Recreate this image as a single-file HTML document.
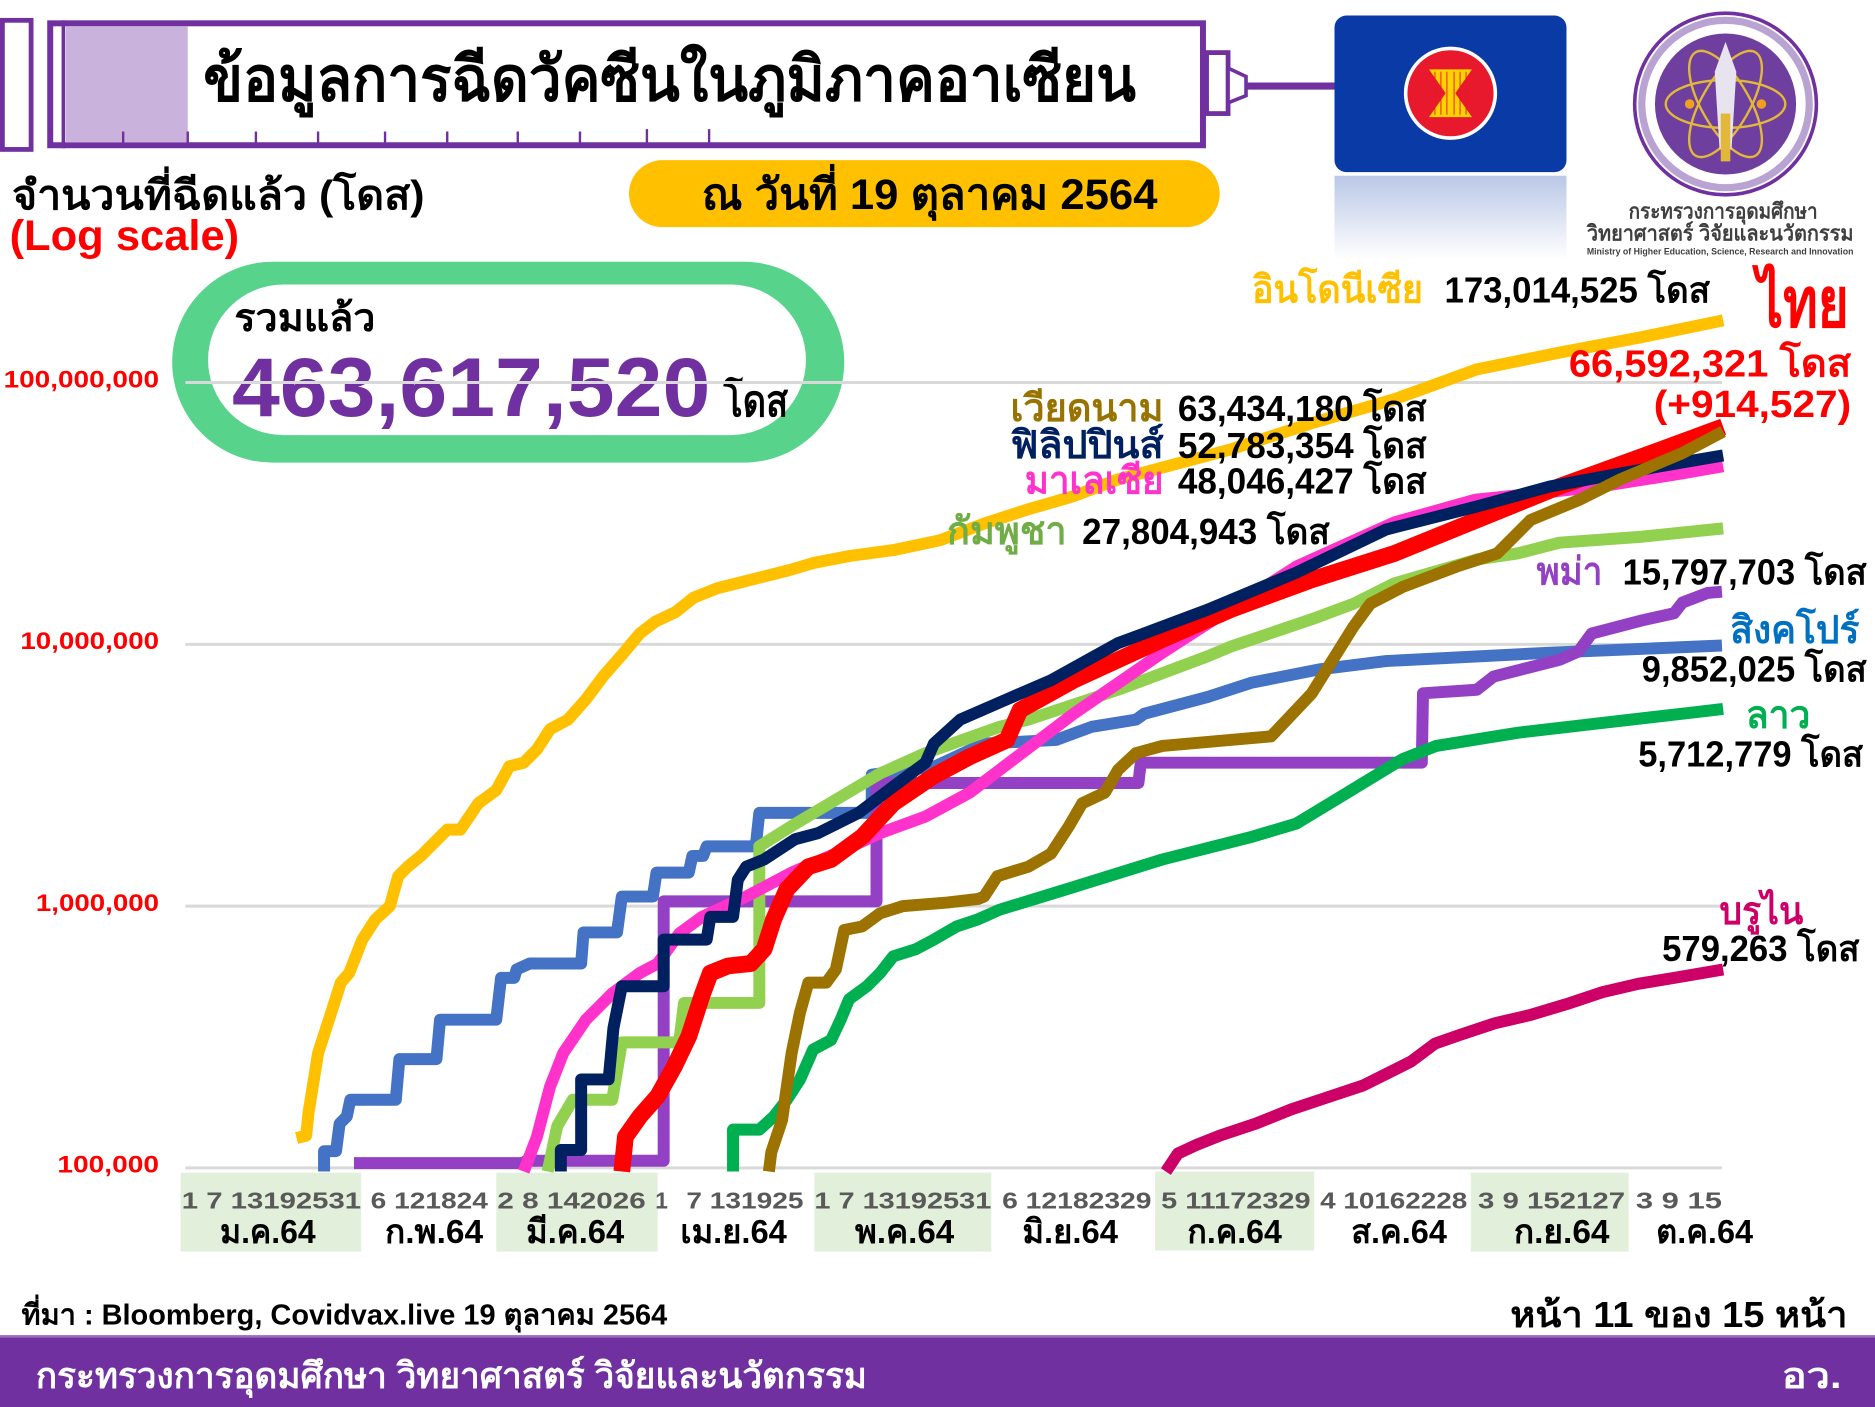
<!DOCTYPE html>
<html><head><meta charset="utf-8">
<style>
html,body{margin:0;padding:0;background:#fff;}
svg{display:block;}
text{font-family:"Liberation Sans","DejaVu Sans",sans-serif;font-weight:bold;}
</style></head>
<body>
<svg width="1875" height="1407" viewBox="0 0 1568 1177" preserveAspectRatio="none" xmlns="http://www.w3.org/2000/svg">
<defs>
<linearGradient id="refl" x1="0" y1="0" x2="0" y2="1">
<stop offset="0" stop-color="#3a5fb8" stop-opacity="0.35"/>
<stop offset="1" stop-color="#3a5fb8" stop-opacity="0"/>
</linearGradient>
</defs>
<rect width="1568" height="1177" fill="#fff"/>

<!-- Syringe -->
<rect x="2" y="17" width="24" height="108" fill="#fff" stroke="#7030a0" stroke-width="4"/>
<rect x="42" y="19.5" width="964" height="102" fill="#fff" stroke="#7030a0" stroke-width="5"/>
<line x1="53" y1="17" x2="53" y2="124" stroke="#7030a0" stroke-width="3"/>
<rect x="55" y="22" width="102" height="97" fill="#c9b3dd"/>
<g stroke="#7030a0" stroke-width="2">
<line x1="103" y1="110" x2="103" y2="120"/><line x1="157" y1="110" x2="157" y2="120"/>
<line x1="214" y1="110" x2="214" y2="120"/><line x1="266" y1="110" x2="266" y2="120"/>
<line x1="322" y1="110" x2="322" y2="120"/><line x1="374" y1="110" x2="374" y2="120"/>
<line x1="433" y1="110" x2="433" y2="120"/><line x1="485" y1="110" x2="485" y2="120"/>
<line x1="541" y1="108" x2="541" y2="120"/><line x1="593" y1="108" x2="593" y2="120"/>
</g>
<rect x="1009" y="44" width="18" height="51" fill="#fff" stroke="#7030a0" stroke-width="4"/>
<polygon points="1027,57 1042,64 1042,80 1027,86" fill="#fff" stroke="#7030a0" stroke-width="3"/>
<line x1="1042" y1="72" x2="1117" y2="72" stroke="#7030a0" stroke-width="6"/>
<text x="170" y="84" font-size="52" fill="#000" textLength="780" lengthAdjust="spacingAndGlyphs">ข้อมูลการฉีดวัคซีนในภูมิภาคอาเซียน</text>

<!-- ASEAN flag -->
<rect x="1116" y="13" width="194" height="131" rx="10" fill="#0a3aa6"/>
<rect x="1116" y="147" width="194" height="70" fill="url(#refl)"/>
<ellipse cx="1213" cy="78" rx="39" ry="39" fill="#fff"/>
<ellipse cx="1213" cy="78" rx="36" ry="36" fill="#e8192c"/>
<polygon points="1195,58 1231,58 1217,78 1231,98 1195,98 1209,78" fill="#ffd200"/>
<g stroke="#e8192c" stroke-width="0.8">
<line x1="1200" y1="60" x2="1200" y2="96"/><line x1="1205" y1="60" x2="1205" y2="96"/>
<line x1="1210" y1="60" x2="1210" y2="96"/><line x1="1216" y1="60" x2="1216" y2="96"/>
<line x1="1221" y1="60" x2="1221" y2="96"/><line x1="1226" y1="60" x2="1226" y2="96"/>
</g>

<!-- Ministry logo -->
<circle cx="1443" cy="87" r="76" fill="#fff" stroke="#7030a0" stroke-width="3"/>
<circle cx="1443" cy="87" r="70" fill="none" stroke="#b9a3d2" stroke-width="6"/>
<circle cx="1443" cy="87" r="59" fill="#6f3f9f"/>
<g fill="none" stroke="#e2b83a" stroke-width="2">
<ellipse cx="1443" cy="87" rx="50" ry="20" transform="rotate(60 1443 87)"/>
<ellipse cx="1443" cy="87" rx="50" ry="20" transform="rotate(-60 1443 87)"/>
<ellipse cx="1443" cy="87" rx="50" ry="20"/>
</g>
<path d="M1443,35 L1452,60 L1448,125 L1438,125 L1434,60 Z" fill="#e8e4ef"/>
<rect x="1439" y="95" width="8" height="40" fill="#e2b83a"/>
<circle cx="1413" cy="87" r="4" fill="#f0a020"/><circle cx="1473" cy="87" r="4" fill="#f0a020"/>
<text x="1362" y="183" font-size="18" fill="#404040" font-weight="normal" textLength="158" lengthAdjust="spacingAndGlyphs">กระทรวงการอุดมศึกษา</text>
<text x="1327" y="201" font-size="18" fill="#404040" font-weight="normal" textLength="223" lengthAdjust="spacingAndGlyphs">วิทยาศาสตร์ วิจัยและนวัตกรรม</text>
<text x="1327" y="213" font-size="8" fill="#404040" font-weight="normal" textLength="223" lengthAdjust="spacingAndGlyphs">Ministry of Higher Education, Science, Research and Innovation</text>

<!-- Header labels -->
<text x="10" y="175" font-size="34" fill="#000" textLength="345" lengthAdjust="spacingAndGlyphs">จำนวนที่ฉีดแล้ว (โดส)</text>
<text x="8" y="209" font-size="36" fill="#ff0000" textLength="192" lengthAdjust="spacingAndGlyphs">(Log scale)</text>
<rect x="526" y="134" width="494" height="56" rx="28" fill="#ffc000"/>
<text x="587" y="175" font-size="36" fill="#000" textLength="381" lengthAdjust="spacingAndGlyphs">ณ วันที่ 19 ตุลาคม 2564</text>

<!-- total pill -->
<rect x="144" y="219" width="562" height="168" rx="84" fill="#57d38c"/>
<rect x="174" y="238" width="500" height="126" rx="63" fill="#fff"/>
<text x="196" y="277" font-size="32" fill="#000" textLength="118" lengthAdjust="spacingAndGlyphs">รวมแล้ว</text>
<text x="194" y="348" font-size="70" fill="#7030a0" textLength="400" lengthAdjust="spacingAndGlyphs">463,617,520</text>
<text x="605" y="348" font-size="36" fill="#000" textLength="54" lengthAdjust="spacingAndGlyphs">โดส</text>

<!-- X axis backgrounds -->
<g fill="#e2efda">
<rect x="151" y="981" width="151" height="66"/>
<rect x="415" y="981" width="135" height="66"/>
<rect x="681" y="981" width="148" height="66"/>
<rect x="966" y="980" width="133" height="66"/>
<rect x="1230" y="981" width="132" height="66"/>
</g>

<!-- gridlines -->
<g stroke="#d9d9d9" stroke-width="2.5">
<line x1="155" y1="320" x2="1440" y2="320"/>
<line x1="155" y1="539" x2="1440" y2="539"/>
<line x1="155" y1="758" x2="1440" y2="758"/>
<line x1="155" y1="977" x2="1440" y2="977"/>
</g>
<g fill="#ff0000" font-size="20" text-anchor="end" font-weight="normal">
<text x="133" y="324" textLength="130" lengthAdjust="spacingAndGlyphs">100,000,000</text>
<text x="133" y="543" textLength="116" lengthAdjust="spacingAndGlyphs">10,000,000</text>
<text x="133" y="762" textLength="103" lengthAdjust="spacingAndGlyphs">1,000,000</text>
<text x="133" y="981" textLength="85" lengthAdjust="spacingAndGlyphs">100,000</text>
</g>

<!-- day labels -->
<g fill="#595959" font-size="19" font-weight="normal" style="white-space:pre">
<text x="152" y="1011" textLength="150" lengthAdjust="spacingAndGlyphs">1  7 13192531</text>
<text x="310" y="1011" textLength="98" lengthAdjust="spacingAndGlyphs">6 121824</text>
<text x="416" y="1011" textLength="124" lengthAdjust="spacingAndGlyphs">2  8 142026</text>
<text x="548" y="1011">1</text>
<text x="574" y="1011" textLength="98" lengthAdjust="spacingAndGlyphs">7 131925</text>
<text x="681" y="1011" textLength="148" lengthAdjust="spacingAndGlyphs">1  7 13192531</text>
<text x="838" y="1011" textLength="125" lengthAdjust="spacingAndGlyphs">6 12182329</text>
<text x="971" y="1011" textLength="125" lengthAdjust="spacingAndGlyphs">5 11172329</text>
<text x="1104" y="1011" textLength="123" lengthAdjust="spacingAndGlyphs">4 10162228</text>
<text x="1236" y="1011" textLength="123" lengthAdjust="spacingAndGlyphs">3  9 152127</text>
<text x="1368" y="1011" textLength="72" lengthAdjust="spacingAndGlyphs">3  9 15</text>
</g>
<g fill="#000" font-size="28">
<text x="184" y="1040" textLength="80" lengthAdjust="spacingAndGlyphs">ม.ค.64</text>
<text x="322" y="1040" textLength="82" lengthAdjust="spacingAndGlyphs">ก.พ.64</text>
<text x="440" y="1040" textLength="82" lengthAdjust="spacingAndGlyphs">มี.ค.64</text>
<text x="569" y="1040" textLength="89" lengthAdjust="spacingAndGlyphs">เม.ย.64</text>
<text x="715" y="1040" textLength="83" lengthAdjust="spacingAndGlyphs">พ.ค.64</text>
<text x="855" y="1040" textLength="80" lengthAdjust="spacingAndGlyphs">มิ.ย.64</text>
<text x="993" y="1040" textLength="79" lengthAdjust="spacingAndGlyphs">ก.ค.64</text>
<text x="1130" y="1040" textLength="80" lengthAdjust="spacingAndGlyphs">ส.ค.64</text>
<text x="1266" y="1040" textLength="80" lengthAdjust="spacingAndGlyphs">ก.ย.64</text>
<text x="1385" y="1040" textLength="81" lengthAdjust="spacingAndGlyphs">ต.ค.64</text>
</g>

<!-- series -->
<g fill="none" stroke-linejoin="round" stroke-linecap="butt" stroke-width="10">
<polyline stroke="#4472c4" points="271,980 271,963 281,963 284,940 290,934 293,920 331,920 334,886 365,886 368,853 415,853 419,818 430,818 432,811 443,806 486,806 488,780 516,780 520,750 546,750 549,730 576,730 579,716 588,716 591,708 632,708 635,680 729,680 729,648 782,641 823,622 883,619 913,608 950,602 957,597 1010,583 1047,571 1103,560 1159,553 1296,546 1440,540"/>
<polyline stroke="#9440c4" points="296,973 440,973 440,971 555,971 555,754 733,754 733,655 952,655 954,638 1189,638 1190,580 1235,577 1249,566 1304,552 1320,545 1331,530 1373,519 1400,513 1407,504 1428,496 1440,495"/>
<polyline stroke="#92d050" points="458,980 466,942 479,920 512,920 520,872 568,872 572,839 635,839 635,708 662,691 699,669 736,647 774,630 836,608 860,602 935,577 1010,549 1029,541 1097,518 1132,505 1166,488 1235,468 1269,463 1304,454 1373,449 1441,442"/>
<polyline stroke="#00b050" points="613,980 613,945 635,945 647,934 658,920 669,903 680,878 695,870 703,853 710,836 725,825 736,814 747,800 766,794 781,786 800,775 818,769 836,761 898,742 972,719 1047,700 1084,689 1122,666 1140,655 1173,635 1201,624 1269,613 1338,605 1407,597 1441,593"/>
<polyline stroke="#cc0066" points="975,980 985,965 1000,958 1020,950 1050,940 1080,928 1110,918 1140,908 1160,898 1180,888 1200,873 1220,866 1250,856 1280,849 1310,840 1340,830 1370,823 1400,818 1441,811"/>
<polyline stroke="#ff33cc" points="438,980 449,951 460,909 471,881 490,853 512,831 535,814 550,806 568,781 587,767 624,750 662,730 699,714 736,697 774,683 811,663 836,644 898,597 972,546 1028,510 1084,474 1166,437 1234,418 1338,407 1407,396 1441,390"/>
<polyline stroke="#ff0000" stroke-width="14" points="520,980 523,951 535,934 550,917 564,892 576,867 587,833 594,814 609,808 628,806 639,794 647,769 658,744 676,725 695,719 721,700 747,672 781,649 811,633 842,619 853,594 898,569 972,535 1029,510 1097,485 1166,463 1235,435 1304,407 1373,382 1441,357"/>
<polyline stroke="#002060" points="469,980 469,962 486,962 486,903 509,903 513,860 520,825 555,825 555,786 591,786 594,767 613,767 617,736 624,725 639,719 665,702 684,697 718,680 747,658 774,638 781,622 803,602 842,585 879,569 935,538 1010,510 1084,479 1159,443 1234,424 1296,407 1350,397 1400,388 1441,381"/>
<polyline stroke="#9c7300" points="643,980 645,964 654,937 662,881 669,847 676,822 691,822 699,811 706,778 721,775 736,764 755,758 792,755 818,752 823,750 834,733 860,725 879,714 894,691 905,672 924,663 935,644 950,630 972,624 1029,619 1063,616 1097,580 1132,524 1146,505 1173,491 1218,474 1252,463 1280,435 1321,418 1355,401 1407,379 1441,361"/>
<polyline stroke="#ffc000" points="248,952 256,950 258,931 266,881 277,847 285,822 292,814 303,786 314,769 326,758 333,733 341,725 352,716 363,705 374,694 385,694 400,672 415,661 426,641 438,638 449,627 460,610 475,602 490,585 505,565 520,548 535,530 548,520 565,512 580,500 600,492 620,487 640,482 660,477 680,471 711,465 748,460 786,452 823,438 860,426 898,415 935,401 1029,376 1097,354 1166,334 1235,309 1304,295 1373,282 1441,268"/>
</g>

<!-- series labels -->
<g font-size="32">
<text x="1047" y="253" fill="#ffc000" textLength="143" lengthAdjust="spacingAndGlyphs">อินโดนีเซีย</text>
<text x="1208" y="253" fill="#000" font-size="30" textLength="222" lengthAdjust="spacingAndGlyphs">173,014,525 โดส</text>
<text x="1469" y="273" fill="#ff0000" font-size="58" textLength="77" lengthAdjust="spacingAndGlyphs">ไทย</text>
<text x="1312" y="315" fill="#ff0000" textLength="236" lengthAdjust="spacingAndGlyphs">66,592,321 โดส</text>
<text x="1383" y="349" fill="#ff0000" textLength="165" lengthAdjust="spacingAndGlyphs">(+914,527)</text>
<text x="845" y="352" fill="#997300" textLength="128" lengthAdjust="spacingAndGlyphs">เวียดนาม</text>
<text x="985" y="352" fill="#000" font-size="30" textLength="208" lengthAdjust="spacingAndGlyphs">63,434,180 โดส</text>
<text x="845" y="383" fill="#002060" textLength="128" lengthAdjust="spacingAndGlyphs">ฟิลิปปินส์</text>
<text x="985" y="383" fill="#000" font-size="30" textLength="208" lengthAdjust="spacingAndGlyphs">52,783,354 โดส</text>
<text x="857" y="413" fill="#ff33cc" textLength="116" lengthAdjust="spacingAndGlyphs">มาเลเซีย</text>
<text x="985" y="413" fill="#000" font-size="30" textLength="208" lengthAdjust="spacingAndGlyphs">48,046,427 โดส</text>
<text x="792" y="455" fill="#70ad47" textLength="100" lengthAdjust="spacingAndGlyphs">กัมพูชา</text>
<text x="905" y="455" fill="#000" font-size="30" textLength="207" lengthAdjust="spacingAndGlyphs">27,804,943 โดส</text>
<text x="1285" y="489" fill="#9440c4" textLength="55" lengthAdjust="spacingAndGlyphs">พม่า</text>
<text x="1357" y="489" fill="#000" font-size="30" textLength="204" lengthAdjust="spacingAndGlyphs">15,797,703 โดส</text>
<text x="1447" y="538" fill="#0070c0" textLength="108" lengthAdjust="spacingAndGlyphs">สิงคโปร์</text>
<text x="1373" y="570" fill="#000" font-size="30" textLength="188" lengthAdjust="spacingAndGlyphs">9,852,025 โดส</text>
<text x="1460" y="609" fill="#00b050" textLength="54" lengthAdjust="spacingAndGlyphs">ลาว</text>
<text x="1370" y="641" fill="#000" font-size="30" textLength="188" lengthAdjust="spacingAndGlyphs">5,712,779 โดส</text>
<text x="1438" y="773" fill="#cc0066" textLength="70" lengthAdjust="spacingAndGlyphs">บรูไน</text>
<text x="1390" y="804" fill="#000" font-size="30" textLength="165" lengthAdjust="spacingAndGlyphs">579,263 โดส</text>
</g>

<!-- footer -->
<text x="18" y="1108" font-size="24" fill="#000" textLength="540" lengthAdjust="spacingAndGlyphs">ที่มา : Bloomberg, Covidvax.live 19 ตุลาคม 2564</text>
<text x="1263" y="1110" font-size="30" fill="#000" textLength="282" lengthAdjust="spacingAndGlyphs">หน้า 11 ของ 15 หน้า</text>
<rect x="0" y="1117" width="1568" height="60" fill="#7030a0"/>
<rect x="0" y="1117" width="1568" height="2" fill="#9a6cc4"/>
<text x="30" y="1161" font-size="30" fill="#fff" textLength="695" lengthAdjust="spacingAndGlyphs">กระทรวงการอุดมศึกษา วิทยาศาสตร์ วิจัยและนวัตกรรม</text>
<text x="1490" y="1161" font-size="30" fill="#fff" textLength="50" lengthAdjust="spacingAndGlyphs">อว.</text>
</svg>
</body></html>
